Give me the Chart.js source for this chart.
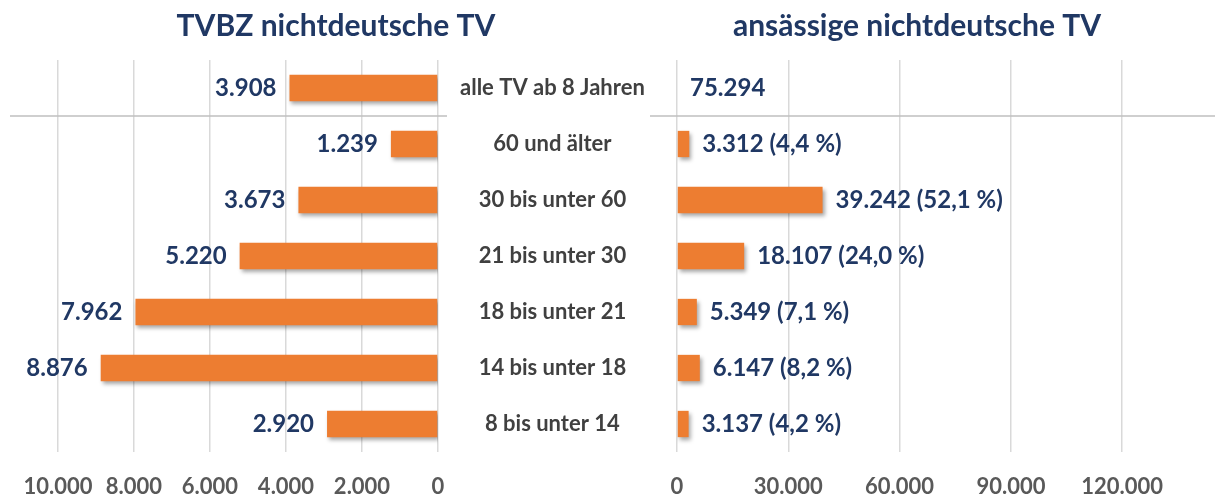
<!DOCTYPE html>
<html>
<head>
<meta charset="utf-8">
<script src="https://cdn.jsdelivr.net/npm/chart.js@4"></script>
<style>
  body { margin: 0; background: #fff; width: 1215px; height: 495px; overflow: hidden; position: relative; }
  #leftChart { position: absolute; left: 0; top: 0; }
  #rightChart { position: absolute; left: 640px; top: 0; }
</style>
</head>
<body>
<canvas id="leftChart" width="662" height="495"></canvas>
<canvas id="rightChart" width="575" height="495"></canvas>
<script>
const categories = ['alle TV ab 8 Jahren', '60 und älter', '30 bis unter 60', '21 bis unter 30', '18 bis unter 21', '14 bis unter 18', '8 bis unter 14'];
const tvbzValues = [3908, 1239, 3673, 5220, 7962, 8876, 2920];
const residentValues = [75294, 3312, 39242, 18107, 5349, 6147, 3137];
const residentShares = [null, 4.4, 52.1, 24.0, 7.1, 8.2, 4.2];
// total row on the right is shown as text only, no bar
const residentBars = [null, 3312, 39242, 18107, 5349, 6147, 3137];
const leftTicks = [0, 2000, 4000, 6000, 8000, 10000];
const rightTicks = [0, 30000, 60000, 90000, 120000];

const FONT = "Lato, 'Open Sans', sans-serif";
const NAVY = "#203864";
const ORANGE = "#ED7D31";
const GRID = "#d9d9d9";

const fmt = (v) => v.toLocaleString('de-DE');
const fmtShare = (v) => v.toLocaleString('de-DE', { minimumFractionDigits: 1, maximumFractionDigits: 1 });

const shadowPlugin = {
  id: 'barShadow',
  beforeDatasetsDraw(chart) {
    const ctx = chart.ctx;
    ctx.save();
    ctx.shadowColor = "rgba(0,0,0,0.35)";
    ctx.shadowBlur = 4;
    ctx.shadowOffsetX = 2;
    ctx.shadowOffsetY = 3;
  },
  afterDatasetsDraw(chart) {
    chart.ctx.restore();
  }
};

function separatorPlugin(x0, extendRight) {
  return {
    id: 'separator',
    beforeDatasetsDraw(chart) {
      const ctx = chart.ctx;
      const yScale = chart.scales.y;
      const y = (yScale.getPixelForValue(0) + yScale.getPixelForValue(1)) / 2;
      ctx.save();
      ctx.strokeStyle = "#bfbfbf";
      ctx.lineWidth = 1.5;
      ctx.beginPath();
      ctx.moveTo(x0 === null ? chart.chartArea.left : x0, y);
      ctx.lineTo(chart.chartArea.right + extendRight, y);
      ctx.stroke();
      ctx.restore();
    }
  };
}

function labelPlugin(side) {
  return {
    id: 'valueLabels',
    afterDatasetsDraw(chart) {
      const ctx = chart.ctx;
      const xScale = chart.scales.x;
      const yScale = chart.scales.y;
      ctx.save();
      ctx.font = "bold 24px " + FONT;
      ctx.fillStyle = NAVY;
      ctx.textBaseline = "middle";
      categories.forEach((c, i) => {
        const y = yScale.getPixelForValue(i);
        if (side === 'left') {
          const x = xScale.getPixelForValue(tvbzValues[i]);
          ctx.textAlign = "right";
          ctx.fillText(fmt(tvbzValues[i]), x - 13, y);
        } else {
          const end = residentBars[i] === null ? 0 : residentBars[i];
          const x = xScale.getPixelForValue(end);
          let txt = fmt(residentValues[i]);
          if (residentShares[i] !== null) txt += " (" + fmtShare(residentShares[i]) + " %)";
          ctx.textAlign = "left";
          ctx.fillText(txt, x + 13, y);
        }
      });
      ctx.restore();
    }
  };
}

const titleOpts = (text) => ({
  display: true,
  text: text,
  color: NAVY,
  font: { family: FONT, size: 30, weight: 'bold' },
  padding: { top: 8, bottom: 16 }
});

const tickFont = { family: FONT, size: 22, weight: 'bold' };

new Chart(document.getElementById("leftChart"), {
  type: 'bar',
  data: {
    labels: categories,
    datasets: [{
      data: tvbzValues,
      backgroundColor: ORANGE,
      barPercentage: 0.47,
      categoryPercentage: 1
    }]
  },
  options: {
    indexAxis: 'y',
    responsive: false,
    animation: false,
    layout: { padding: { left: 10, right: 0, top: 0, bottom: 0 } },
    plugins: {
      legend: { display: false },
      tooltip: { enabled: false },
      title: titleOpts("TVBZ nichtdeutsche TV")
    },
    scales: {
      x: {
        reverse: true,
        min: 0,
        max: 11263,
        afterBuildTicks: (scale) => { scale.ticks = leftTicks.map(v => ({ value: v })); },
        afterFit: (scale) => { scale.height = 43; },
        grid: { color: GRID, lineWidth: 1.5, drawTicks: false },
        border: { display: false },
        ticks: { color: "#595959", font: tickFont, padding: 22, maxRotation: 0, callback: (v) => fmt(v) }
      },
      y: {
        position: 'right',
        afterFit: (scale) => { scale.width = 224; },
        grid: { display: false },
        border: { display: false },
        ticks: { color: "#404040", font: { family: FONT, size: 22, weight: 'bold' }, crossAlign: 'center', padding: 14 }
      }
    }
  },
  plugins: [separatorPlugin(null, 9), shadowPlugin, labelPlugin('left')]
});

new Chart(document.getElementById("rightChart"), {
  type: 'bar',
  data: {
    labels: categories,
    datasets: [{
      data: residentBars,
      backgroundColor: ORANGE,
      barPercentage: 0.47,
      categoryPercentage: 1
    }]
  },
  options: {
    indexAxis: 'y',
    responsive: false,
    animation: false,
    layout: { padding: { left: 37, right: 58, top: 0, bottom: 0 } },
    plugins: {
      legend: { display: false },
      tooltip: { enabled: false },
      title: titleOpts("ansässige nichtdeutsche TV")
    },
    scales: {
      x: {
        min: 0,
        max: 129380,
        afterBuildTicks: (scale) => { scale.ticks = rightTicks.map(v => ({ value: v })); },
        afterFit: (scale) => { scale.height = 43; },
        grid: { color: GRID, lineWidth: 1.5, drawTicks: false },
        border: { display: false },
        ticks: { color: "#595959", font: tickFont, padding: 22, maxRotation: 0, callback: (v) => fmt(v) }
      },
      y: {
        display: false
      }
    }
  },
  plugins: [separatorPlugin(10, 58), shadowPlugin, labelPlugin('right')]
});
</script>
</body>
</html>
